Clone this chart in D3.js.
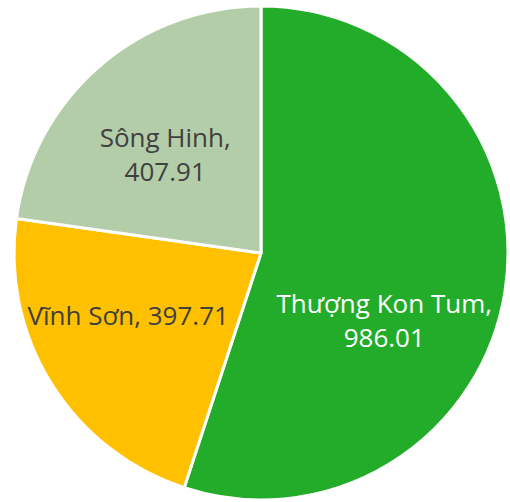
<!DOCTYPE html>
<html lang="vi">
<head>
<meta charset="UTF-8">
<title>Pie</title>
<style>
  body { margin: 0; background: #ffffff; overflow: hidden; }
  svg { display: block; }
  .lbl { font-family: "Open Sans", "Noto Sans", Arial, sans-serif; font-size: 26px; }
</style>
</head>
<body>
<svg id="chart" width="510" height="502"></svg>
<script src="https://d3js.org/d3.v7.min.js"></script>
<script>
// data
const plants = ["Thượng Kon Tum", "Vĩnh Sơn", "Sông Hinh"];
const output = [986.01, 397.71, 407.91];
const colours = ["#23AC29", "#FFC000", "#B4CDA9"];
const textColours = ["#ffffff", "#404040", "#404040"];

const cx = 261, cy = 253, radius = 247;

const svg = d3.select("#chart");
const g = svg.append("g").attr("transform", `translate(${cx},${cy})`);

const pie = d3.pie().sort(null).value(d => d.value);
const arc = d3.arc().innerRadius(0).outerRadius(radius);
const labelArc = d3.arc().innerRadius(140).outerRadius(140);

const rows = plants.map((p, i) => ({ name: p, value: output[i], i }));
const slices = pie(rows);

g.selectAll("path.slice")
  .data(slices)
  .join("path")
  .attr("class", "slice")
  .attr("d", arc)
  .attr("fill", d => colours[d.data.i])
  .attr("stroke", "#ffffff")
  .attr("stroke-width", 3)
  .attr("stroke-linejoin", "round");

// Excel "best fit" placement: first-line baseline, nudged from the centroid
const nudge = [[-15, 38], [-14, -2], [-4, 0]];
const lineH = 34;
const fmt = d3.format(".2f");

slices.forEach(d => {
  const [x0, y0] = labelArc.centroid(d);
  const i = d.data.i;
  const lines = i === 1
    ? [`${d.data.name}, ${fmt(d.data.value)}`]
    : [`${d.data.name},`, fmt(d.data.value)];
  const x = x0 + nudge[i][0];
  const y = y0 + nudge[i][1];
  const t = g.append("text")
    .attr("class", "lbl")
    .attr("text-anchor", "middle")
    .attr("fill", textColours[i])
    .attr("x", x)
    .attr("y", y);
  lines.forEach((s, k) => {
    t.append("tspan")
      .attr("x", x)
      .attr("dy", k === 0 ? 0 : lineH)
      .text(s);
  });
});
</script>
</body>
</html>
